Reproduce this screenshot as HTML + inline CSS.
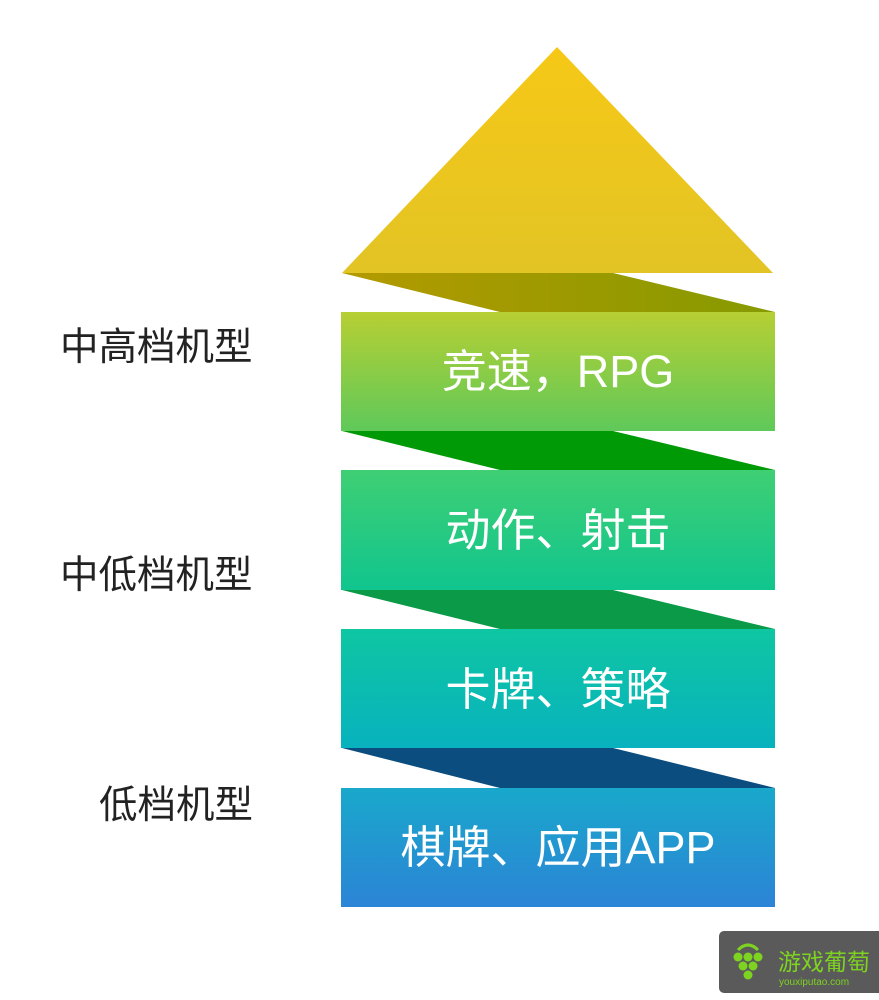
<!DOCTYPE html>
<html><head><meta charset="utf-8"><style>
html,body{margin:0;padding:0;background:#fff;width:879px;height:1000px;overflow:hidden}
svg{display:block}
</style></head><body>
<svg width="879" height="1000" viewBox="0 0 879 1000" xmlns="http://www.w3.org/2000/svg">
<defs>
<linearGradient id="tri" x1="0" y1="0" x2="0" y2="1"><stop offset="0" stop-color="#f6c816"/><stop offset="1" stop-color="#e2c425"/></linearGradient>
<linearGradient id="f1" x1="0" y1="0" x2="1" y2="0"><stop offset="0" stop-color="#b39a00"/><stop offset="1" stop-color="#869a00"/></linearGradient>
<linearGradient id="b1" x1="0" y1="0" x2="0" y2="1"><stop offset="0" stop-color="#b7cf33"/><stop offset="1" stop-color="#5fc95a"/></linearGradient>
<linearGradient id="b2" x1="0" y1="0" x2="0" y2="1"><stop offset="0" stop-color="#3fcf74"/><stop offset="1" stop-color="#10c58e"/></linearGradient>
<linearGradient id="b3" x1="0" y1="0" x2="0" y2="1"><stop offset="0" stop-color="#0ec6a2"/><stop offset="1" stop-color="#08b2be"/></linearGradient>
<linearGradient id="b4" x1="0" y1="0" x2="0" y2="1"><stop offset="0" stop-color="#19a8cb"/><stop offset="1" stop-color="#2c84d6"/></linearGradient>
</defs>
<polygon points="557,47 773,273 342,273" fill="url(#tri)"/>
<polygon points="342,273 613,273 775,312 500,312" fill="url(#f1)"/>
<rect x="341" y="312" width="434" height="119" fill="url(#b1)"/>
<polygon points="342,431 613,431 775,470 500,470" fill="#009a06"/>
<rect x="341" y="470" width="434" height="120" fill="url(#b2)"/>
<polygon points="342,590 613,590 775,629 500,629" fill="#0a9a48"/>
<rect x="341" y="629" width="434" height="119" fill="url(#b3)"/>
<polygon points="342,748 613,748 775,788 500,788" fill="#0a4d7e"/>
<rect x="341" y="788" width="434" height="119" fill="url(#b4)"/>
<g font-family="Liberation Sans, Noto Sans CJK SC, sans-serif" fill="#fff" font-size="45" text-anchor="middle">
<text x="558" y="387">竞速，RPG</text>
<text x="558" y="546">动作、射击</text>
<text x="558" y="705">卡牌、策略</text>
<text x="558" y="863">棋牌、应用APP</text>
</g>
<g font-family="Liberation Sans, Noto Sans CJK SC, sans-serif" fill="#222" font-size="38.5">
<text x="60" y="360">中高档机型</text>
<text x="60" y="588">中低档机型</text>
<text x="99" y="818">低档机型</text>
</g>
<rect x="719" y="931" width="165" height="62" rx="5" fill="#5a5a5a"/>
<g fill="#7ed321">
<path d="M738 950 Q748 940 758 950" stroke="#7ed321" stroke-width="3" fill="none"/>
<circle cx="738" cy="957" r="4.5"/><circle cx="748" cy="957" r="4.5"/><circle cx="758" cy="957" r="4.5"/>
<circle cx="743" cy="966" r="4.5"/><circle cx="753" cy="966" r="4.5"/><circle cx="748" cy="975" r="4.5"/>
</g>
<text x="778" y="970" font-family="Liberation Sans, Noto Sans CJK SC, sans-serif" font-size="23" fill="#7ed321">游戏葡萄</text>
<text x="779" y="985" font-family="Liberation Sans, sans-serif" font-size="10" fill="#7ed321">youxiputao.com</text>
</svg>
</body></html>
